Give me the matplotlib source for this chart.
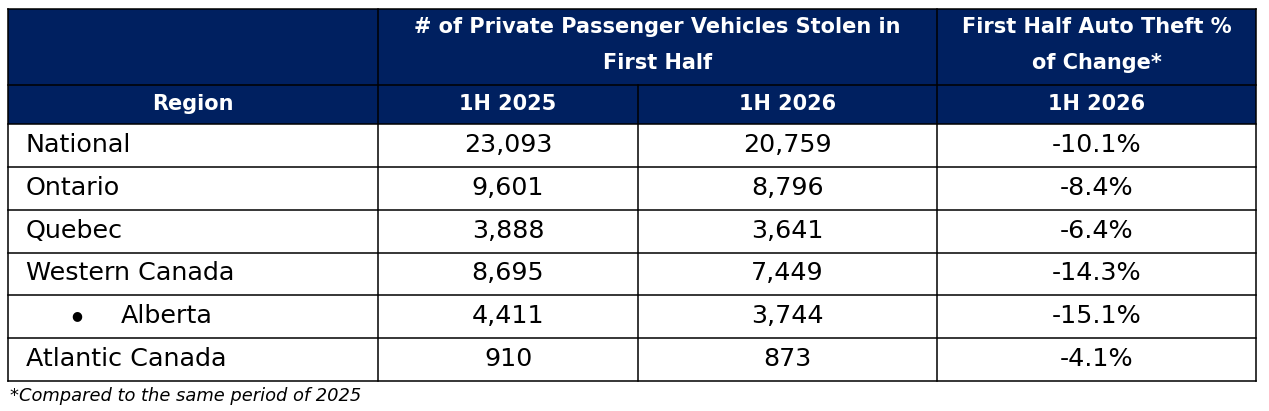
import matplotlib
matplotlib.use("Agg")
import matplotlib.pyplot as plt
from matplotlib.patches import Rectangle

regions = ["National", "Ontario", "Quebec", "Western Canada", "Alberta", "Atlantic Canada"]
is_sub = [False, False, False, False, True, False]
stolen_1h2025 = [23093, 9601, 3888, 8695, 4411, 910]
stolen_1h2026 = [20759, 8796, 3641, 7449, 3744, 873]
pct_change = [-10.1, -8.4, -6.4, -14.3, -15.1, -4.1]

header_top = ["# of Private Passenger Vehicles Stolen in\nFirst Half", "First Half Auto Theft %\nof Change*"]
header_sub = ["Region", "1H 2025", "1H 2026", "1H 2026"]
footnote = "*Compared to the same period of 2025"

W, H = 1269, 411
fig = plt.figure(figsize=(W / 100, H / 100), dpi=100)
ax = fig.add_axes([0, 0, 1, 1])
ax.set_xlim(0, W)
ax.set_ylim(H, 0)
ax.axis("off")

navy = "#002060"
col_x = [8, 378, 638, 937, 1256]
y_top, y_h2, y_data = 9.5, 85, 124.5
y_bottom = 380.5
n = len(regions)
row_h = (y_bottom - y_data) / n
lw = 1.1
FONT = "DejaVu Sans"

# header background
ax.add_patch(Rectangle((col_x[0], y_top), col_x[-1] - col_x[0], y_data - y_top,
                       facecolor=navy, edgecolor="none"))

def line(x0, y0, x1, y1):
    ax.plot([x0, x1], [y0, y1], color="black", lw=lw, solid_capstyle="projecting")

# grid lines
line(col_x[0], y_top, col_x[-1], y_top)
line(col_x[0], y_h2, col_x[-1], y_h2)
line(col_x[0], y_top, col_x[0], y_bottom)
line(col_x[-1], y_top, col_x[-1], y_bottom)
line(col_x[1], y_top, col_x[1], y_bottom)
line(col_x[3], y_top, col_x[3], y_bottom)
line(col_x[2], y_h2, col_x[2], y_bottom)
for i in range(n + 1):
    y = y_data + i * row_h
    line(col_x[0], y, col_x[-1], y)

# header texts
hsize = 15
ax.text((col_x[1] + col_x[3]) / 2, 45, header_top[0], ha="center", va="center",
        color="white", fontsize=hsize, fontweight="bold", family=FONT, linespacing=2.05)
ax.text((col_x[3] + col_x[4]) / 2, 45, header_top[1], ha="center", va="center",
        color="white", fontsize=hsize, fontweight="bold", family=FONT, linespacing=2.05)
for j, lab in enumerate(header_sub):
    ax.text((col_x[j] + col_x[j + 1]) / 2, (y_h2 + y_data) / 2 - 1, lab, ha="center", va="center",
            color="white", fontsize=hsize, fontweight="bold", family=FONT)

# data
bsize = 18.3
for i in range(n):
    yc = y_data + (i + 0.5) * row_h - 0.5
    if is_sub[i]:
        ax.text(77, yc, "\u25CF", ha="center", va="center", fontsize=9, family=FONT, color="black")
        ax.text(121, yc, regions[i], ha="left", va="center", fontsize=bsize, family=FONT, color="black")
    else:
        ax.text(26, yc, regions[i], ha="left", va="center", fontsize=bsize, family=FONT, color="black")
    ax.text((col_x[1] + col_x[2]) / 2, yc, f"{stolen_1h2025[i]:,}", ha="center", va="center",
            fontsize=bsize, family=FONT, color="black")
    ax.text((col_x[2] + col_x[3]) / 2, yc, f"{stolen_1h2026[i]:,}", ha="center", va="center",
            fontsize=bsize, family=FONT, color="black")
    ax.text((col_x[3] + col_x[4]) / 2, yc, f"{pct_change[i]:.1f}%", ha="center", va="center",
            fontsize=bsize, family=FONT, color="black")

ax.text(10, 395.5, footnote, ha="left", va="center", fontsize=12.9, style="italic", family=FONT, color="black")

fig.savefig("out.png", dpi=100)
